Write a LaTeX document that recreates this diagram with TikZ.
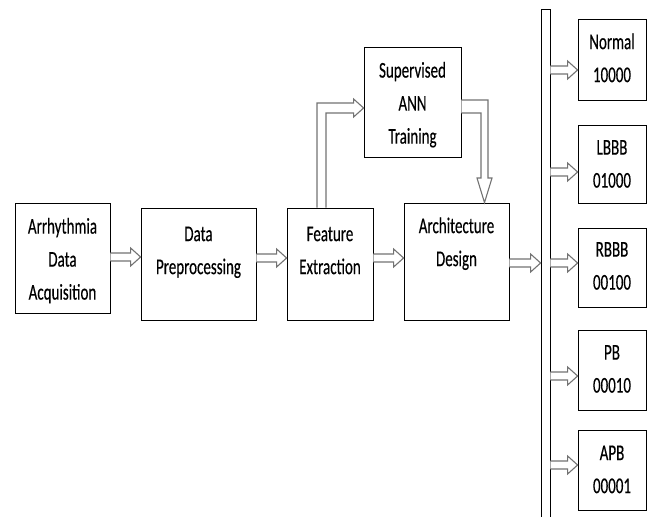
\documentclass[tikz,border=0pt]{standalone}
\usepackage{fontspec}
\usepackage{graphicx}
\setmainfont{Carlito}[FakeBold=0.4]
\usetikzlibrary{calc}

% tall, narrow lettering used in every box
\newcommand\tallcell[1]{\scalebox{1}[1.5]{\begin{tabular}{@{}c@{}}#1\end{tabular}}}

% hollow block arrow between two nodes at height #3
\newcommand\blockarrow[3]{%
  \draw[blk] let \p1=(#1.east), \p2=(#2.west) in
    (\x1,#3+4) -- (\x2-10pt,#3+4) -- (\x2-10pt,#3+9) -- (\x2,#3)
    -- (\x2-10pt,#3-9) -- (\x2-10pt,#3-4) -- (\x1,#3-4);}

\begin{document}
\begin{tikzpicture}[x=1pt,y=1pt,
  box/.style={draw=black, line width=0.8pt, fill=white, inner sep=0pt},
  txt/.style={font=\fontsize{15}{22}\selectfont, inner sep=0pt},
  blk/.style={draw=black!55, line width=1.1pt, fill=white, line join=miter}]
\useasboundingbox (0,0) rectangle (654,517);

% processing chain
\node[box, minimum width=95, minimum height=110] (acq) at (62.5,259) {};
\node[txt] at (62.5,257) {\tallcell{Arrhythmia\\Data\\Acquisition}};

\node[box, minimum width=115, minimum height=112] (pre) at (198.5,253) {};
\node[txt] at (198.5,266) {\tallcell{Data\\Preprocessing}};

\node[box, minimum width=86, minimum height=112] (feat) at (330,253) {};
\node[txt] at (330,266) {\tallcell{Feature\\Extraction}};

\node[box, minimum width=97, minimum height=110] (ann) at (412.5,415) {};
\node[txt] at (412.5,413) {\tallcell{Supervised\\ANN\\Training}};

\node[box, minimum width=105, minimum height=117] (arch) at (456.5,255.5) {};
\node[txt] at (456.5,274) {\tallcell{Architecture\\Design}};

% output bus
\node[box, minimum width=9, minimum height=513] (bus) at (545.5,251.5) {};

% output classes
\node[box, minimum width=68, minimum height=81] (o1) at (612,457.5) {};
\node[txt] at (612,458) {\tallcell{Normal\\10000}};
\node[box, minimum width=68, minimum height=78] (o2) at (612,353) {};
\node[txt] at (612,352.5) {\tallcell{LBBB\\01000}};
\node[box, minimum width=68, minimum height=79] (o3) at (612,249.5) {};
\node[txt] at (612,250.5) {\tallcell{RBBB\\00100}};
\node[box, minimum width=68, minimum height=80] (o4) at (612,147) {};
\node[txt] at (612,147.5) {\tallcell{PB\\00010}};
\node[box, minimum width=68, minimum height=80] (o5) at (612,47) {};
\node[txt] at (612,47) {\tallcell{APB\\00001}};

% straight connectors
\blockarrow{acq}{pre}{260}
\blockarrow{pre}{feat}{259}
\blockarrow{feat}{arch}{259}
\blockarrow{arch}{bus}{254}
\blockarrow{bus}{o1}{447}
\blockarrow{bus}{o2}{345}
\blockarrow{bus}{o3}{254}
\blockarrow{bus}{o4}{141}
\blockarrow{bus}{o5}{52}

% feature extraction up to training
\draw[blk] let \p1=(feat.north), \p2=(ann.west) in
  (\x1-13pt,\y1) -- (\x1-13pt,414) -- (\x2-10pt,414) -- (\x2-10pt,418)
  -- (\x2,409) -- (\x2-10pt,400) -- (\x2-10pt,404) -- (\x1-4pt,404) -- (\x1-4pt,\y1);

% training down to architecture design
\draw[blk] let \p1=(ann.east), \p2=(arch.north) in
  (\x1,417) -- (\x2+31.5pt,417) -- (\x2+31.5pt,339) -- (\x2+35.5pt,339)
  -- (\x2+28pt,\y2) -- (\x2+20.5pt,339) -- (\x2+24.5pt,339) -- (\x2+24.5pt,404) -- (\x1,404);
\end{tikzpicture}
\end{document}
